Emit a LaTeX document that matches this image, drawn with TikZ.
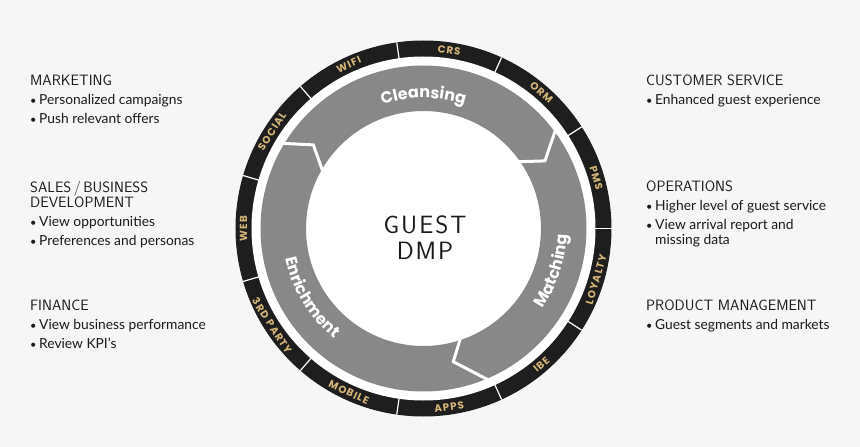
\documentclass[tikz,border=0pt]{standalone}
\usepackage{fontspec}
\usetikzlibrary{decorations.text}
\newfontfamily\bodyfont{Lato}
\newfontfamily\ringfont{Poppins}[LetterSpace=10]
\newfontfamily\arcfont{Poppins}
\newfontfamily\headfont{Latin Modern Sans}
\newfontfamily\dmpfont{Latin Modern Sans}[LetterSpace=8]
\definecolor{bg}{HTML}{F6F6F6}
\definecolor{ringblack}{HTML}{1E1E1E}
\definecolor{bandgray}{HTML}{888888}
\definecolor{gold}{HTML}{D6B679}
\definecolor{txt}{HTML}{1A1A1A}
\newcommand\bul{\makebox[9pt][l]{\raisebox{0.3pt}{\fontsize{11}{11}\selectfont •}}}
\begin{document}
\begin{tikzpicture}[x=1pt,y=1pt,
  head/.style={anchor=base west, inner sep=0pt, font=\headfont\fontsize{15}{15}\selectfont, text=txt},
  item/.style={anchor=base west, inner sep=0pt, font=\bodyfont\fontsize{13.8}{14}\selectfont, text=txt},
  ringlabel/.style={inner sep=0pt, font=\ringfont\bfseries\fontsize{10.3}{10.3}\selectfont, text=gold},
  divider/.style={draw=white, line width=1.2pt},
  chevron/.style={draw=white, line width=3pt, line join=miter, shorten <=-4pt, shorten >=-3pt},
  dmp/.style={anchor=base, inner sep=0pt, font=\dmpfont\fontsize{25}{25}\selectfont, text=txt},
  arclabel/.style={decorate, decoration={text along path, text align=center,
     text={|\arcfont\bfseries\fontsize{16}{16}\selectfont\color{white}|#1}}}]
\fill[bg] (-423.5,-218.5) rectangle (436.5,228.5);
\useasboundingbox (-423.5,-218.5) rectangle (436.5,228.5);
% rings
\fill[ringblack] (0,0) circle[radius=188];
\fill[white] (0,0) circle[radius=172];
\fill[bandgray, even odd rule] (0,0) circle[radius=163] (0,0) circle[radius=117.5];
\foreach \k in {0,...,10} \draw[divider] ({\k*360/11}:171.5) -- ({\k*360/11}:188);
% chevrons
\draw[chevron] (36.4:163.3) -- (29.1:139) -- (34.7:117.4);
\draw[chevron] (-66.8:164.8) -- (-77.4:136.5) -- (-71.9:117.3);
\draw[chevron] (149:165.4) -- (142.8:138.3) -- (149.4:118.3);
% arc labels
\path[arclabel=Cleansing] (140:130.5) arc[start angle=140, end angle=40, radius=130.5];
\path[arclabel=Matching] (-58.2:143.5) arc[start angle=-58.2, end angle=21.8, radius=143.5];
\path[arclabel=Enrichment] (171.6:141.5) arc[start angle=171.6, end angle=251.6, radius=141.5];
% ring labels
\node[ringlabel, rotate=-8.2] (crs) at (81.8:180) {CRS};
\node[ringlabel, rotate=24.5] (wifi) at (114.5:180) {WIFI};
\node[ringlabel, rotate=57.3] (social) at (147.3:180) {SOCIAL};
\node[ringlabel, rotate=90] (web) at (180:180) {WEB};
\node[ringlabel, rotate=-57.3] (third) at (212.7:180) {3RD\hspace{3.5pt}PARTY};
\node[ringlabel, rotate=-24.5] (mobile) at (245.5:180) {MOBILE};
\node[ringlabel, rotate=8.2] (apps) at (278.2:180) {APPS};
\node[ringlabel, rotate=40.9] (ibe) at (310.9:180) {IBE};
\node[ringlabel, rotate=73.6] (loyalty) at (343.6:180) {LOYALTY};
\node[ringlabel, rotate=-73.6] (pms) at (16.4:180) {PMS};
\node[ringlabel, rotate=-40.9] (orm) at (49.1:180) {ORM};
% center
\node[dmp] (guest) at (1.5,-4.8) {GUEST};
\node[dmp] (dmpt) at (1.5,-31.5) {DMP};
% left column
\node[head] (mkt) at (-393.5,142.5) {MARKETING};
\node[item] (mkt1) at (-393.5,123.5) {\bul Personalized campaigns};
\node[item] (mkt2) at (-393.5,104.5) {\bul Push relevant offers};
\node[head] (sales) at (-393.5,35.8) {SALES\,/\,BUSINESS};
\node[head] (dev) at (-393.5,20.8) {DEVELOPMENT};
\node[item] (sales1) at (-393.5,1.8) {\bul View opportunities};
\node[item] (sales2) at (-393.5,-17.2) {\bul Preferences and personas};
\node[head] (fin) at (-393.5,-82.2) {FINANCE};
\node[item] (fin1) at (-393.5,-101.5) {\bul View business performance};
\node[item] (fin2) at (-393.5,-120.5) {\bul Review KPI’s};
% right column
\node[head] (cs) at (222.5,142.5) {CUSTOMER SERVICE};
\node[item] (cs1) at (222.5,123.5) {\bul Enhanced guest experience};
\node[head] (ops) at (222.5,36.8) {OPERATIONS};
\node[item] (ops1) at (222.5,17.8) {\bul Higher level of guest service};
\node[item] (ops2) at (222.5,-1.5) {\bul View arrival report and};
\node[item] (ops3) at (231.5,-16.5) {missing data};
\node[head] (pm) at (222.5,-82.2) {PRODUCT MANAGEMENT};
\node[item] (pm1) at (222.5,-101.5) {\bul Guest segments and markets};
\end{tikzpicture}
\end{document}
